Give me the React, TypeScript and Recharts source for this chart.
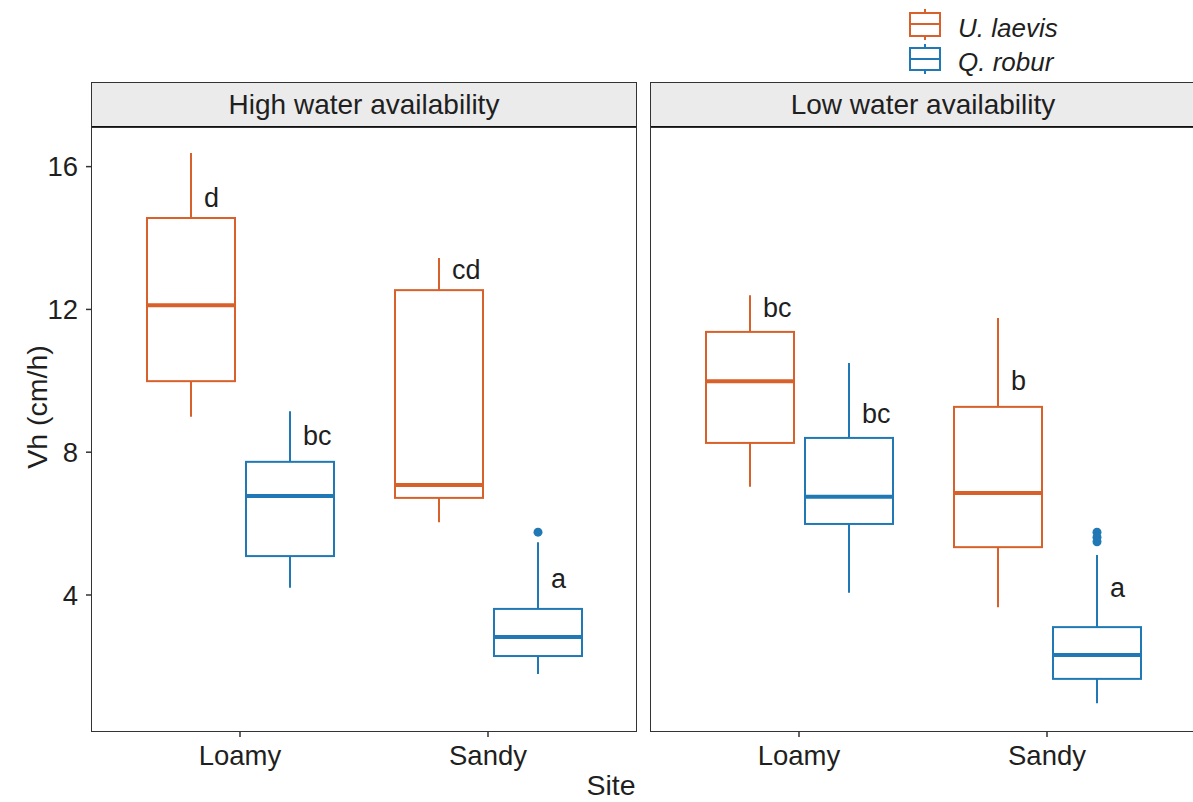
import React from 'react';
import { ComposedChart, Bar, XAxis, YAxis } from 'recharts';

// categories and facets
const sites = ['Loamy', 'Sandy'];
const speciesNames = ['U. laevis', 'Q. robur'];
const panelTitles = ['High water availability', 'Low water availability'];
const yTicks = [4, 8, 12, 16];

// box stats per site: [lower whisker, Q1, median, Q3, upper whisker]
const highLaevis = [
  [8.99, 9.99, 12.12, 14.56, 16.38],
  [6.04, 6.72, 7.08, 12.54, 13.44],
];
const highRobur = [
  [4.2, 5.09, 6.77, 7.73, 9.15],
  [1.79, 2.29, 2.82, 3.61, 5.48],
];
const lowLaevis = [
  [7.03, 8.26, 9.99, 11.37, 12.4],
  [3.66, 5.34, 6.86, 9.27, 11.76],
];
const lowRobur = [
  [4.06, 5.99, 6.75, 8.4, 10.5],
  [0.97, 1.65, 2.32, 3.1, 5.12],
];

// outlying points
const highLaevisOut: number[][] = [[], []];
const highRoburOut: number[][] = [[], [5.76]];
const lowLaevisOut: number[][] = [[], []];
const lowRoburOut: number[][] = [[], [5.76, 5.62, 5.49]];

// significance letters and the height they sit at
const highLaevisLetters = ['d', 'cd'];
const highRoburLetters = ['bc', 'a'];
const lowLaevisLetters = ['bc', 'b'];
const lowRoburLetters = ['bc', 'a'];
const highLaevisLetterAt = [14.87, 12.85];
const highRoburLetterAt = [8.2, 4.2];
const lowLaevisLetterAt = [11.79, 9.74];
const lowRoburLetterAt = [8.82, 3.94];

const COLORS = { laevis: '#D8602A', robur: '#2079B4' };
const FONT = '"Liberation Sans", Arial, sans-serif';
const TEXT = '#1f1f1f';
const FRAME = '#333333';

type Group = { s: number[]; out: number[]; letter: string; at: number };
type Row = { site: string; laevis: Group; robur: Group };

function buildRows(
  laevis: number[][], robur: number[][],
  laevisOut: number[][], roburOut: number[][],
  laevisLetters: string[], roburLetters: string[],
  laevisAt: number[], roburAt: number[],
): Row[] {
  return sites.map((site, i) => ({
    site,
    laevis: { s: laevis[i], out: laevisOut[i], letter: laevisLetters[i], at: laevisAt[i] },
    robur: { s: robur[i], out: roburOut[i], letter: roburLetters[i], at: roburAt[i] },
  }));
}

const highRows = buildRows(highLaevis, highRobur, highLaevisOut, highRoburOut,
  highLaevisLetters, highRoburLetters, highLaevisLetterAt, highRoburLetterAt);
const lowRows = buildRows(lowLaevis, lowRobur, lowLaevisOut, lowRoburOut,
  lowLaevisLetters, lowRoburLetters, lowLaevisLetterAt, lowRoburLetterAt);

// the bar spans the whisker range; everything else is placed on the same scale
const BoxShape = (props: any) => {
  const { x, y, width, height, payload, group, color } = props;
  const g: Group = payload[group];
  const [lo, q1, med, q3, hi] = g.s;
  const top = Math.min(y, y + height);
  const k = Math.abs(height) / (hi - lo);
  const py = (v: number) => top + (hi - v) * k;
  const cx = x + width / 2;
  return (
    <g>
      <line x1={cx} x2={cx} y1={py(hi)} y2={py(q3)} stroke={color} strokeWidth={2} />
      <line x1={cx} x2={cx} y1={py(q1)} y2={py(lo)} stroke={color} strokeWidth={2} />
      <rect x={x} y={py(q3)} width={width} height={py(q1) - py(q3)} fill="#fff" stroke={color} strokeWidth={2} />
      <line x1={x} x2={x + width} y1={py(med)} y2={py(med)} stroke={color} strokeWidth={4} />
      {g.out.map((v, i) => (
        <circle key={i} cx={cx} cy={py(v)} r={4.5} fill={color} />
      ))}
      <text x={cx + 13} y={py(g.at)} fontSize={27} fill={TEXT} textAnchor="start">
        {g.letter}
      </text>
    </g>
  );
};

const Panel = ({ rows, left, showY }: { rows: Row[]; left: number; showY: boolean }) => (
  <div style={{ position: 'absolute', left, top: 0 }}>
    <ComposedChart
      width={showY ? 640 : 550}
      height={802}
      data={rows}
      margin={{ top: 127, right: showY ? 4 : 0, bottom: 31, left: showY ? 0 : 6 }}
      barSize={88}
      barGap={11}
    >
      <XAxis
        dataKey="site"
        height={40}
        padding={{ left: 24, right: 24 }}
        axisLine={false}
        tickLine={{ stroke: FRAME, strokeWidth: 1.5 }}
        tickSize={6}
        tickMargin={8}
        tick={{ fontSize: 27.5, fill: TEXT }}
      />
      <YAxis
        type="number"
        domain={[0.19, 17.11]}
        ticks={yTicks}
        allowDataOverflow
        hide={!showY}
        width={92}
        axisLine={false}
        tickLine={{ stroke: FRAME, strokeWidth: 1.5 }}
        tickSize={6}
        tickMargin={8}
        tick={{ fontSize: 27.5, fill: TEXT }}
      />
      <Bar
        dataKey={(r: Row) => [r.laevis.s[0], r.laevis.s[4]]}
        isAnimationActive={false}
        shape={(p: any) => <BoxShape {...p} group="laevis" color={COLORS.laevis} />}
      />
      <Bar
        dataKey={(r: Row) => [r.robur.s[0], r.robur.s[4]]}
        isAnimationActive={false}
        shape={(p: any) => <BoxShape {...p} group="robur" color={COLORS.robur} />}
      />
    </ComposedChart>
  </div>
);

const Frame = ({ left, title }: { left: number; title: string }) => (
  <>
    <div
      style={{
        position: 'absolute', left, top: 82, width: 546, height: 46,
        boxSizing: 'border-box', border: `1.5px solid ${FRAME}`, borderBottom: '2px solid #111',
        background: '#EBEBEB', display: 'flex', alignItems: 'center', justifyContent: 'center',
        fontSize: 28, color: TEXT,
      }}
    >
      {title}
    </div>
    <div
      style={{
        position: 'absolute', left, top: 127, width: 546, height: 605,
        boxSizing: 'border-box', border: `1.5px solid ${FRAME}`, pointerEvents: 'none',
      }}
    />
  </>
);

const LegendKey = () => {
  const rows = [
    { name: speciesNames[0], color: COLORS.laevis, top: 13, bottom: 36, med: 24, base: 37 },
    { name: speciesNames[1], color: COLORS.robur, top: 48, bottom: 70, med: 59, base: 71 },
  ];
  return (
    <svg style={{ position: 'absolute', left: 900, top: 0 }} width={293} height={82}>
      {rows.map((r) => (
        <g key={r.name}>
          <line x1={25} x2={25} y1={r.top - 4} y2={r.bottom + 4} stroke={r.color} strokeWidth={2} />
          <rect x={10} y={r.top} width={30} height={r.bottom - r.top} fill="#fff" stroke={r.color} strokeWidth={2} />
          <line x1={10} x2={40} y1={r.med} y2={r.med} stroke={r.color} strokeWidth={2} />
          <text x={58} y={r.base} fontSize={26} fontStyle="italic" fill={TEXT}>{r.name}</text>
        </g>
      ))}
    </svg>
  );
};

export default function App() {
  return (
    <div
      style={{
        position: 'absolute', left: 0, top: 0, width: 1193, height: 802,
        overflow: 'hidden', background: '#fff', fontFamily: FONT,
      }}
    >
      <Panel rows={highRows} left={0} showY />
      <Panel rows={lowRows} left={645} showY={false} />
      <Frame left={91} title={panelTitles[0]} />
      <Frame left={650} title={panelTitles[1]} />
      <LegendKey />
      <div
        style={{
          position: 'absolute', left: 37, top: 407, fontSize: 28.5, color: TEXT,
          transform: 'translate(-50%, -50%) rotate(-90deg)', whiteSpace: 'nowrap',
        }}
      >
        Vh (cm/h)
      </div>
      <div
        style={{
          position: 'absolute', left: 611, top: 785, fontSize: 28.5, color: TEXT,
          transform: 'translate(-50%, -50%)', whiteSpace: 'nowrap',
        }}
      >
        Site
      </div>
    </div>
  );
}
